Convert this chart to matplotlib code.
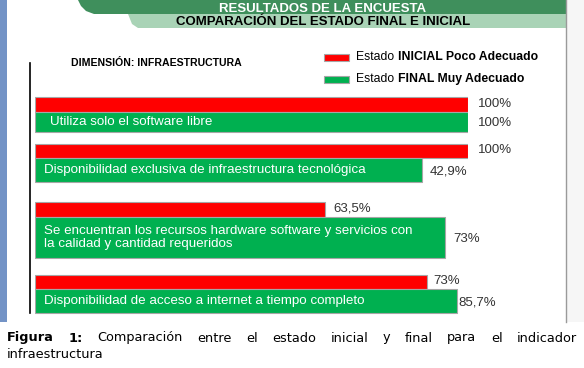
import matplotlib.pyplot as plt
from matplotlib.patches import Rectangle, Polygon

# datos de la encuesta (dimension infraestructura)
categorias = [
    "Utiliza solo el software libre",
    "Disponibilidad exclusiva de infraestructura tecnológica",
    "Se encuentran los recursos hardware software y servicios con\nla calidad y cantidad requeridos",
    "Disponibilidad de acceso a internet a tiempo completo",
]
inicial = [100, 100, 63.5, 73]
final = [100, 42.9, 73, 85.7]
# largo de las barras como se ve en la lamina (no estan dibujadas a escala)
largo_inicial = [100, 100, 67.0, 90.5]
largo_final = [100, 89.4, 94.7, 97.5]

leyenda = [("Estado ", "INICIAL Poco Adecuado"), ("Estado ", "FINAL Muy Adecuado")]
titulo1 = "RESULTADOS DE LA ENCUESTA"
titulo2 = "COMPARACIÓN DEL ESTADO FINAL E INICIAL"
dimension = "DIMENSIÓN: INFRAESTRUCTURA"
pie1 = ["Figura", "1:", "Comparación", "entre", "el", "estado", "inicial", "y",
        "final", "para", "el", "indicador"]
pie2 = "infraestructura"

ROJO = "#ff0000"
VERDE = "#00b050"
lamina = ["Liberation Sans", "DejaVu Sans"]

W, H = 584, 368
fig = plt.figure(figsize=(W / 100, H / 100), dpi=100)
fondo = fig.add_axes([0, 0, 1, 1])
fondo.set_xlim(0, W)
fondo.set_ylim(H, 0)
fondo.axis("off")

# lamina de fondo
fondo.add_patch(Rectangle((0, 0), 7, 322, color="#7393c6", lw=0))
fondo.add_patch(Rectangle((566, 0), 18, 322, color="#f6f6f6", lw=0))
fondo.plot([566, 566], [0, 322], color="#9a9a9a", lw=1)
fondo.add_patch(Polygon([(78, 0), (566, 0), (566, 14), (94, 14), (86, 11), (81, 6)],
                        color="#3f8f5c", lw=0))
fondo.add_patch(Polygon([(128, 14), (566, 14), (566, 28), (138, 28), (132, 24)],
                        color="#a9d3b6", lw=0))
fondo.text(323, 12, titulo1, color="white", fontsize=9.5, fontweight="bold",
           ha="center", va="baseline", family=lamina)
fondo.text(323, 22, titulo2, color="black", fontsize=9.5, fontweight="bold",
           ha="center", va="center", family=lamina)
fondo.text(71, 63, dimension, fontsize=7.6, fontweight="bold", va="center", family=lamina)
fondo.plot([30, 30], [63, 313], color="black", lw=1.2)

for (normal, negrita), color, y in zip(leyenda, [ROJO, VERDE], [57, 79]):
    fondo.add_patch(Rectangle((324, y - 3.5), 25, 7, facecolor=color,
                              edgecolor="#a6a6a6", lw=0.8))
    t = fondo.text(356, y, normal, fontsize=8.8, va="center", family=lamina)
    fondo.annotate(negrita, xy=(1, 0.5), xycoords=t, fontsize=8.8, fontweight="bold",
                   va="center", family=lamina)

# barras
ax = fig.add_axes([35 / W, 1 - 316 / H, 433 / W, (316 - 90) / H])
ax.set_xlim(0, 100)
ax.set_ylim(316, 90)
ax.axis("off")

sup_rojo = [97, 144, 202, 275]
alto_rojo = [15, 14, 15, 14]
sup_verde = [112, 158, 217, 289]
alto_verde = [20, 24, 41, 24]
sep_rojo = [10, 10, 8, 6]
sep_verde = [10, 8, 8, 1]

def etiqueta(v):
    return f"{v:g}%".replace(".", ",")

for i in range(len(categorias)):
    yr = sup_rojo[i] + alto_rojo[i] / 2
    yv = sup_verde[i] + alto_verde[i] / 2
    ax.barh(yr, largo_inicial[i], height=alto_rojo[i], color=ROJO,
            edgecolor="#a6a6a6", lw=0.8)
    ax.barh(yv, largo_final[i], height=alto_verde[i], color=VERDE,
            edgecolor="#a6a6a6", lw=0.8)
    ax.annotate(etiqueta(inicial[i]), xy=(largo_inicial[i], yr - 1),
                xytext=(sep_rojo[i] * 0.72, 0), textcoords="offset points",
                fontsize=9.5, color="#333333", va="center", family=lamina)
    ax.annotate(etiqueta(final[i]), xy=(largo_final[i], yv + 1),
                xytext=(sep_verde[i] * 0.72, 0), textcoords="offset points",
                fontsize=9.5, color="#333333", va="center", family=lamina)
    dx = 15 if i == 0 else 9
    ax.annotate(categorias[i], xy=(0, yv), xytext=(dx * 0.72, 0),
                textcoords="offset points", fontsize=9.6, color="white",
                va="center", family=lamina, linespacing=1.1)

# pie de figura justificado
fig.canvas.draw()
rend = fig.canvas.get_renderer()
palabras = []
for k, p in enumerate(pie1):
    t = fondo.text(0, 338, p, fontsize=9.3, va="center", family="DejaVu Sans",
                   fontweight="bold" if k < 2 else "normal")
    palabras.append(t)
anchos = [t.get_window_extent(rend).width for t in palabras]
hueco = (577 - 7 - sum(anchos)) / (len(anchos) - 1)
x = 7
for t, a in zip(palabras, anchos):
    t.set_x(x)
    x += a + hueco
fondo.text(7, 354, pie2, fontsize=9.3, va="center", family="DejaVu Sans")

fig.savefig("out.png", dpi=100)
